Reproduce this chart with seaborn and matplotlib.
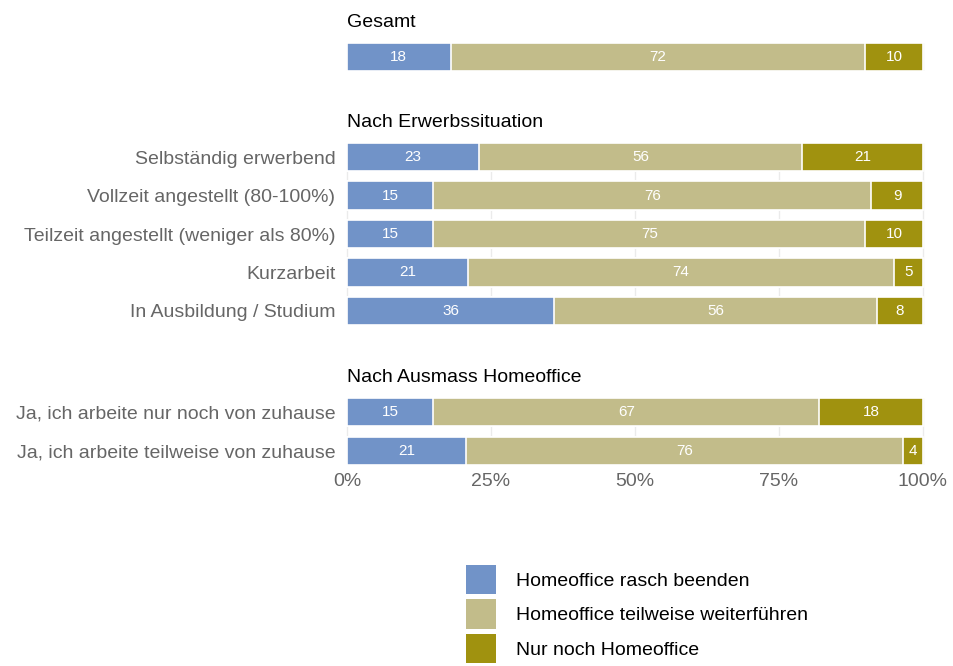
import matplotlib.pyplot as plt
import numpy as np
import pandas as pd
import seaborn as sns
from matplotlib.patches import Patch

# 1. Données
panels = ["Gesamt", "Nach Erwerbssituation", "Nach Ausmass Homeoffice"]

cat_gesamt = ["Gesamt"]
cat_erwerb = [
    "Selbständig erwerbend",
    "Vollzeit angestellt (80-100%)",
    "Teilzeit angestellt (weniger als 80%)",
    "Kurzarbeit",
    "In Ausbildung / Studium",
]
cat_homeoffice = [
    "Ja, ich arbeite nur noch von zuhause",
    "Ja, ich arbeite teilweise von zuhause",
]

# Anteile in % : rasch beenden / teilweise weiterführen / nur noch Homeoffice
beenden = [18, 23, 15, 15, 21, 36, 15, 20.6]
teilweise = [72, 56, 76, 75, 74, 56, 67, 75.9]
nur_noch = [10, 21, 9, 10, 5, 8, 18, 3.5]

series = ["Homeoffice rasch beenden", "Homeoffice teilweise weiterführen", "Nur noch Homeoffice"]
colors = ["#7193C8", "#C2BC8A", "#A0920F"]

x_ticks = [0, 0.25, 0.5, 0.75, 1.0]
x_labels = ["0%", "25%", "50%", "75%", "100%"]

df = pd.DataFrame({
    "panel": [panels[0]] * 1 + [panels[1]] * 5 + [panels[2]] * 2,
    "kategorie": cat_gesamt + cat_erwerb + cat_homeoffice,
    "beenden": beenden,
    "teilweise": teilweise,
    "nur_noch": nur_noch,
})
total = df[["beenden", "teilweise", "nur_noch"]].sum(axis=1)
for c in ["beenden", "teilweise", "nur_noch"]:
    df[c] = df[c] / total

# 2. Style
sns.set_theme(style="whitegrid")
plt.rcParams["font.family"] = ["Liberation Sans", "DejaVu Sans"]
plt.rcParams["grid.color"] = "#EBEBEB"
plt.rcParams["grid.linewidth"] = 1.0

fig = plt.figure(figsize=(9.54, 6.66), dpi=100)
W, H = 954, 666


def px_axes(top, bottom):
    left, right = 342.4, 927.6
    return fig.add_axes([left / W, 1 - bottom / H, (right - left) / W, (bottom - top) / H])


ax_specs = [(43, 71), (143, 325), (398, 465)]

for i, (panel, (top, bottom)) in enumerate(zip(panels, ax_specs)):
    ax = px_axes(top, bottom)
    sub = df[df["panel"] == panel].reset_index(drop=True)
    n = len(sub)
    cum1 = sub["beenden"]
    cum2 = cum1 + sub["teilweise"]
    cum3 = cum2 + sub["nur_noch"]

    # Empilement : on dessine d'abord le total puis les cumuls partiels
    for vals, col in zip([cum3, cum2, cum1], colors[::-1]):
        sns.barplot(
            x=vals, y=sub["kategorie"], orient="h", color=col, width=0.74,
            edgecolor="white", linewidth=1.2, ax=ax, saturation=1,
        )

    # Étiquettes des segments
    for j in range(n):
        starts = [0, cum1[j], cum2[j]]
        widths = [sub["beenden"][j], sub["teilweise"][j], sub["nur_noch"][j]]
        for s, w in zip(starts, widths):
            ax.text(s + w / 2, j, f"{w * 100:.0f}", ha="center", va="center",
                    color="white", fontsize=11)

    ax.set_xlim(-0.008, 1.008)
    ax.set_ylim(n - 1 + 0.37, -0.37)
    ax.set_xticks(x_ticks)
    ax.set_xlabel("")
    ax.set_ylabel("")
    for sp in ax.spines.values():
        sp.set_visible(False)
    ax.tick_params(axis="both", length=0, colors="#666666", labelsize=14)
    ax.tick_params(axis="y", pad=5)
    ax.tick_params(axis="x", pad=6)
    if i < 2:
        ax.set_xticklabels([])
    else:
        ax.set_xticklabels(x_labels)
    if i == 0:
        ax.set_yticklabels([])

    ax.annotate(panel, xy=(0, 1), xycoords=("data", "axes fraction"),
                xytext=(0, 11.5), textcoords="offset points",
                ha="left", va="baseline", fontsize=14, color="black")

# 3. Légende
handles = [Patch(facecolor=c, edgecolor="none", label=s) for c, s in zip(colors, series)]
fig.legend(
    handles=handles, loc="upper left", bbox_to_anchor=(466 / W, 1 - 565 / H),
    frameon=False, fontsize=14, handlelength=1.55, handleheight=1.94,
    labelspacing=0.26, handletextpad=1.03, borderpad=0, borderaxespad=0,
    labelcolor="black",
)

plt.savefig("out.png", dpi=100)
plt.close()
